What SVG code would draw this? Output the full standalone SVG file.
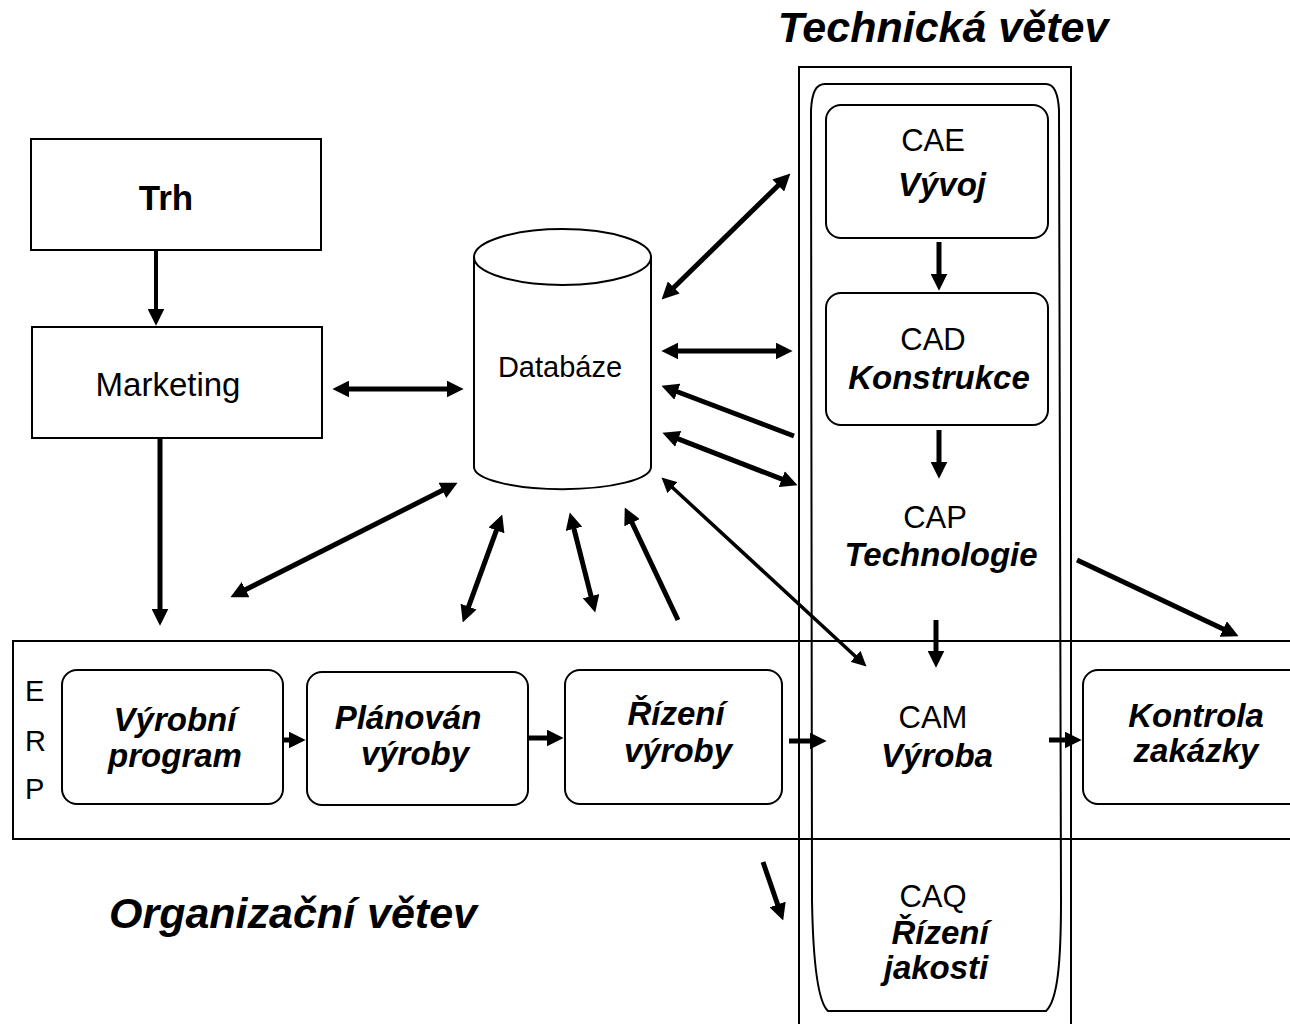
<svg xmlns="http://www.w3.org/2000/svg" width="1290" height="1024" viewBox="0 0 1290 1024">
  <style>
    .box { fill: none; stroke: #000; stroke-width: 2; }
    .t { font-family: "Liberation Sans", Arial, sans-serif; fill: #000; text-anchor: middle; }
    .reg { font-size: 31px; }
    .bi { font-size: 33px; font-weight: bold; font-style: italic; }
    .erp { font-size: 29px; text-anchor: start; }
    .title { font-size: 43px; font-weight: bold; font-style: italic; }
    .arr { fill: none; stroke: #000; stroke-width: 5; }
    .one { marker-end: url(#head); }
    .two { marker-start: url(#head); marker-end: url(#head); }
    .thin { stroke-width: 3.5; }
    .thin.two { marker-start: url(#headS); marker-end: url(#headS); }
  </style>
  <defs>
    <marker id="head" viewBox="0 0 16 16" refX="6" refY="8" markerWidth="17" markerHeight="17" markerUnits="userSpaceOnUse" orient="auto-start-reverse">
      <path d="M0,0 L16,8 L0,16 Z" fill="#000"/>
    </marker>
    <marker id="headS" viewBox="0 0 16 16" refX="6" refY="8" markerWidth="15" markerHeight="15" markerUnits="userSpaceOnUse" orient="auto-start-reverse">
      <path d="M0,0 L16,8 L0,16 Z" fill="#000"/>
    </marker>
  </defs>
  <rect width="1290" height="1024" fill="#fff"/>

  <!-- branch titles -->
  <text class="t title" x="943" y="42">Technická větev</text>
  <text class="t title" x="293" y="928">Organizační větev</text>

  <!-- technical branch frame -->
  <g id="technical-branch">
    <rect class="box" x="799" y="67" width="272" height="980"/>
    <path class="box" d="M825,84 L1046,84 C1054,84 1058,92 1059,110 L1061,900 C1061,960 1058,1000 1046,1011 L828,1011 C818,1002 813,960 812,900 L811,110 C812,92 816,84 825,84 Z"/>
  </g>

  <!-- ERP band -->
  <g id="erp">
    <rect class="box" x="13" y="641" width="1300" height="198"/>
    <text class="t erp" x="25" y="701">E</text>
    <text class="t erp" x="25" y="751">R</text>
    <text class="t erp" x="25" y="799">P</text>
  </g>

  <g id="trh">
    <rect class="box" x="31" y="139" width="290" height="111"/>
    <text class="t" style="font-size:35px;font-weight:bold" x="166" y="210">Trh</text>
  </g>

  <g id="marketing">
    <rect class="box" x="32" y="327" width="290" height="111"/>
    <text class="t" style="font-size:33px" x="168" y="396">Marketing</text>
  </g>

  <g id="databaze">
    <path class="box" d="M474,257 L474,467 A88,22 0 0 0 651,467 L651,257"/>
    <ellipse class="box" cx="562.5" cy="257" rx="88.5" ry="28"/>
    <text class="t" style="font-size:29px" x="560" y="377">Databáze</text>
  </g>

  <g id="cae">
    <rect class="box" x="826" y="105" width="222" height="133" rx="15"/>
    <text class="t reg" x="933" y="151">CAE</text>
    <text class="t bi" x="942" y="196">Vývoj</text>
  </g>

  <g id="cad">
    <rect class="box" x="826" y="293" width="222" height="132" rx="15"/>
    <text class="t reg" x="933" y="350">CAD</text>
    <text class="t bi" x="939" y="389">Konstrukce</text>
  </g>

  <g id="cap">
    <text class="t reg" x="935" y="528">CAP</text>
    <text class="t bi" x="941" y="566">Technologie</text>
  </g>

  <g id="cam">
    <text class="t reg" x="933" y="728">CAM</text>
    <text class="t bi" x="937" y="767">Výroba</text>
  </g>

  <g id="caq">
    <text class="t reg" x="933" y="907">CAQ</text>
    <text class="t bi" x="940" y="944">Řízení</text>
    <text class="t bi" x="936" y="979">jakosti</text>
  </g>

  <g id="vyrobni-program">
    <rect class="box" x="62" y="670" width="221" height="134" rx="15"/>
    <text class="t bi" x="175" y="731">Výrobní</text>
    <text class="t bi" x="175" y="767">program</text>
  </g>

  <g id="planovani-vyroby">
    <rect class="box" x="307" y="672" width="221" height="133" rx="15"/>
    <text class="t bi" x="408" y="729">Plánován</text>
    <text class="t bi" x="415" y="765">výroby</text>
  </g>

  <g id="rizeni-vyroby">
    <rect class="box" x="565" y="670" width="217" height="134" rx="15"/>
    <text class="t bi" x="676" y="725">Řízení</text>
    <text class="t bi" x="678" y="762">výroby</text>
  </g>

  <g id="kontrola-zakazky">
    <rect class="box" x="1083" y="670" width="230" height="134" rx="15"/>
    <text class="t bi" x="1196" y="727">Kontrola</text>
    <text class="t bi" x="1196" y="762">zakázky</text>
  </g>

  <!-- connectors -->
  <g id="connectors">
    <path class="arr one" style="stroke-width:4" d="M156,251 L156,315"/>
    <path class="arr one" d="M160,438 L160,615"/>
    <path class="arr two" d="M343,389 L453,389"/>
    <path class="arr two" d="M448.1,487.5 L239.9,592.5"/>
    <path class="arr two" d="M498.6,524.4 L466.4,612.6"/>
    <path class="arr two" d="M572.4,522.7 L592.6,602.3"/>
    <path class="arr one" d="M678,620 L629.3,517"/>
    <path class="arr thin two" d="M668.4,483.8 L859.6,660.2"/>
    <path class="arr two" d="M669.2,292 L782.8,181"/>
    <path class="arr two" d="M672,351 L782,351"/>
    <path class="arr one" d="M794,436 L671.4,389.5"/>
    <path class="arr two" d="M672.3,436.6 L787.7,481.4"/>
    <path class="arr one" d="M939,242 L939,280"/>
    <path class="arr one" d="M939,430 L939,468"/>
    <path class="arr one" d="M936,620 L936,657"/>
    <path class="arr one" d="M1077,560 L1229,631.7"/>
    <path class="arr one" d="M283,740 L295,740"/>
    <path class="arr one" d="M528,738 L553,738"/>
    <path class="arr one" d="M789,741 L816,741"/>
    <path class="arr one" d="M1049,740 L1071,740"/>
    <path class="arr one" d="M763,862 L779.7,910.5"/>
  </g>
</svg>
